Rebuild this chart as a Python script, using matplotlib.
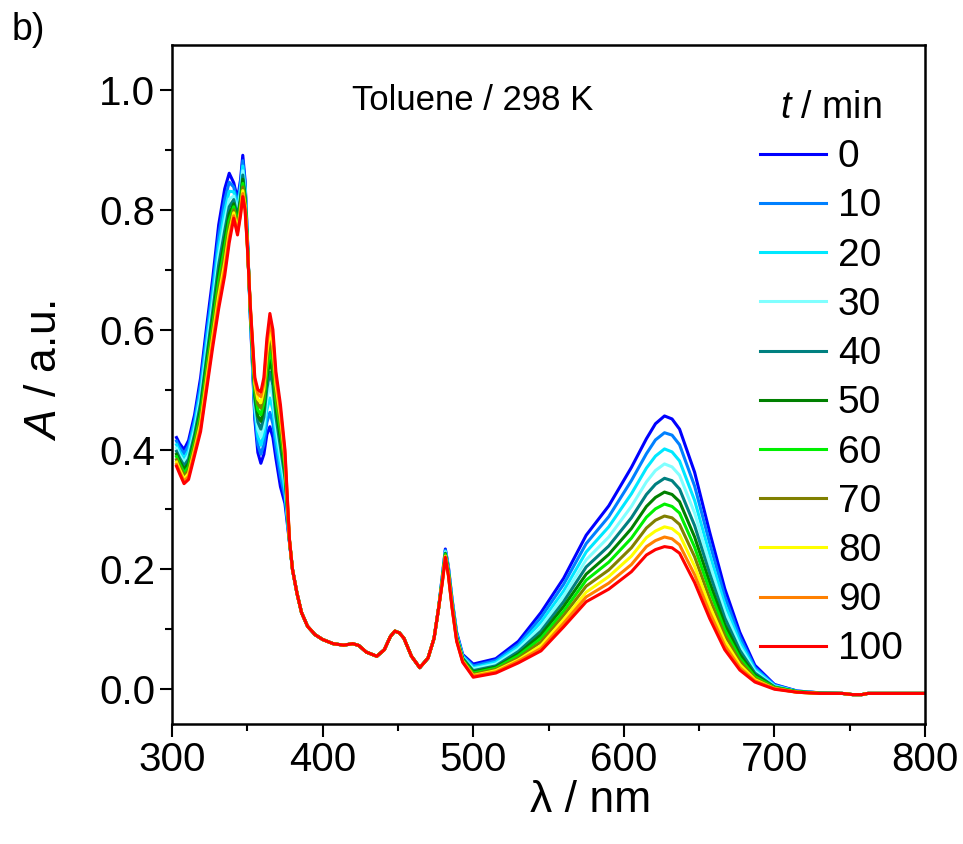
# -*- coding: utf-8 -*-
"""
UV-vis absorption spectra in toluene at 298 K, recorded every 10 min
"""
#%% packages
import matplotlib
matplotlib.use('Agg')
import matplotlib.pyplot as plt
from matplotlib.ticker import MultipleLocator, FormatStrFormatter

#%% data
times = [0, 10, 20, 30, 40, 50, 60, 70, 80, 90, 100]  # min
colors = ['#0000FF', '#0080FF', '#00E8FF', '#80FFFF', '#008080', '#008000',
          '#00F000', '#808000', '#FFFF00', '#FF8000', '#FF0000']

# UV part, every curve differs
wl_uv = [303, 305, 308, 311, 315, 319, 323, 327, 331, 335, 338, 341, 343.5, 345.5,
         347, 348.5, 350, 352, 355, 357, 359, 361, 363, 365, 367, 369, 372, 375, 378]
abs_uv = [
    [0.420, 0.410, 0.400, 0.415, 0.458, 0.520, 0.605, 0.685, 0.775, 0.835, 0.861, 0.845, 0.818, 0.850, 0.891, 0.850, 0.760, 0.620, 0.450, 0.395, 0.377, 0.392, 0.425, 0.438, 0.420, 0.385, 0.338, 0.310, 0.245],  # 0
    [0.414, 0.404, 0.393, 0.407, 0.449, 0.509, 0.592, 0.670, 0.757, 0.817, 0.846, 0.838, 0.810, 0.842, 0.882, 0.844, 0.757, 0.623, 0.459, 0.408, 0.392, 0.408, 0.445, 0.462, 0.443, 0.403, 0.355, 0.321, 0.246],  # 10
    [0.408, 0.397, 0.385, 0.398, 0.441, 0.497, 0.578, 0.656, 0.739, 0.798, 0.831, 0.830, 0.803, 0.835, 0.873, 0.837, 0.755, 0.625, 0.468, 0.422, 0.407, 0.425, 0.466, 0.486, 0.466, 0.422, 0.373, 0.333, 0.246],  # 20
    [0.402, 0.391, 0.379, 0.391, 0.433, 0.487, 0.566, 0.642, 0.723, 0.781, 0.818, 0.823, 0.796, 0.828, 0.865, 0.831, 0.753, 0.627, 0.476, 0.434, 0.421, 0.439, 0.484, 0.508, 0.487, 0.439, 0.389, 0.343, 0.247],  # 30
    [0.397, 0.386, 0.373, 0.384, 0.425, 0.477, 0.554, 0.630, 0.708, 0.765, 0.805, 0.817, 0.789, 0.821, 0.858, 0.826, 0.750, 0.630, 0.484, 0.446, 0.434, 0.454, 0.502, 0.529, 0.507, 0.455, 0.404, 0.353, 0.247],  # 40
    [0.392, 0.381, 0.367, 0.377, 0.418, 0.467, 0.544, 0.618, 0.693, 0.750, 0.793, 0.810, 0.783, 0.815, 0.851, 0.821, 0.748, 0.632, 0.491, 0.456, 0.447, 0.467, 0.519, 0.549, 0.525, 0.470, 0.418, 0.363, 0.248],  # 50
    [0.388, 0.376, 0.361, 0.371, 0.412, 0.459, 0.534, 0.607, 0.680, 0.737, 0.782, 0.805, 0.777, 0.809, 0.844, 0.816, 0.746, 0.634, 0.497, 0.466, 0.458, 0.479, 0.533, 0.566, 0.542, 0.483, 0.431, 0.371, 0.248],  # 60
    [0.383, 0.372, 0.356, 0.365, 0.406, 0.451, 0.524, 0.597, 0.667, 0.723, 0.772, 0.800, 0.772, 0.804, 0.838, 0.812, 0.745, 0.635, 0.504, 0.476, 0.469, 0.490, 0.548, 0.583, 0.558, 0.497, 0.443, 0.379, 0.249],  # 70
    [0.379, 0.367, 0.351, 0.360, 0.400, 0.443, 0.516, 0.587, 0.656, 0.711, 0.762, 0.795, 0.767, 0.799, 0.832, 0.807, 0.743, 0.637, 0.510, 0.484, 0.478, 0.501, 0.561, 0.599, 0.573, 0.509, 0.455, 0.387, 0.249],  # 80
    [0.375, 0.363, 0.347, 0.355, 0.395, 0.436, 0.507, 0.578, 0.645, 0.700, 0.753, 0.790, 0.762, 0.794, 0.827, 0.803, 0.741, 0.639, 0.515, 0.493, 0.488, 0.511, 0.574, 0.614, 0.587, 0.520, 0.465, 0.394, 0.250],  # 90
    [0.372, 0.360, 0.343, 0.350, 0.390, 0.430, 0.500, 0.570, 0.635, 0.690, 0.745, 0.786, 0.758, 0.790, 0.822, 0.800, 0.740, 0.640, 0.520, 0.500, 0.496, 0.520, 0.585, 0.627, 0.600, 0.530, 0.475, 0.400, 0.250],  # 100
]

# 380-477 nm, all curves lie on top of each other
wl_mid = [380, 383, 386, 390, 395, 400, 407, 414, 420, 424, 429, 436, 441, 445, 448,
          451, 454, 459, 464.5, 470, 474, 477]
abs_mid = [0.200, 0.160, 0.128, 0.105, 0.091, 0.083, 0.076, 0.0735, 0.076, 0.073, 0.062,
           0.055, 0.066, 0.088, 0.097, 0.094, 0.085, 0.055, 0.036, 0.052, 0.085, 0.135]

# visible part, every curve differs
wl_vis = [479.5, 481.5, 483.5, 486, 489, 493, 500, 515, 530, 545, 560, 575, 590, 605, 615,
          621, 627, 632, 637, 647, 657, 667, 677, 687, 700, 715, 730]
abs_vis = [
    [0.190, 0.234, 0.205, 0.150, 0.095, 0.058, 0.042, 0.051, 0.080, 0.128, 0.185, 0.257, 0.306, 0.370, 0.418, 0.443, 0.456, 0.451, 0.434, 0.362, 0.262, 0.168, 0.095, 0.040, 0.008, -0.003, -0.006],  # 0
    [0.188, 0.232, 0.203, 0.148, 0.093, 0.056, 0.039, 0.048, 0.075, 0.120, 0.175, 0.243, 0.288, 0.348, 0.393, 0.416, 0.428, 0.424, 0.408, 0.339, 0.244, 0.155, 0.087, 0.036, 0.007, -0.003, -0.006],  # 10
    [0.187, 0.230, 0.201, 0.146, 0.091, 0.055, 0.036, 0.045, 0.071, 0.112, 0.164, 0.229, 0.271, 0.326, 0.369, 0.389, 0.401, 0.396, 0.381, 0.315, 0.225, 0.142, 0.079, 0.033, 0.006, -0.004, -0.006],  # 20
    [0.186, 0.229, 0.199, 0.144, 0.089, 0.053, 0.034, 0.042, 0.067, 0.104, 0.155, 0.216, 0.254, 0.305, 0.346, 0.365, 0.376, 0.371, 0.357, 0.294, 0.209, 0.130, 0.072, 0.030, 0.005, -0.004, -0.006],  # 30
    [0.184, 0.227, 0.198, 0.143, 0.088, 0.052, 0.031, 0.039, 0.063, 0.097, 0.146, 0.204, 0.239, 0.286, 0.325, 0.342, 0.352, 0.348, 0.334, 0.273, 0.193, 0.119, 0.065, 0.027, 0.004, -0.004, -0.006],  # 40
    [0.183, 0.226, 0.196, 0.141, 0.086, 0.050, 0.029, 0.037, 0.059, 0.091, 0.138, 0.192, 0.225, 0.268, 0.305, 0.320, 0.329, 0.325, 0.313, 0.254, 0.178, 0.108, 0.058, 0.024, 0.003, -0.004, -0.007],  # 50
    [0.182, 0.225, 0.195, 0.140, 0.085, 0.049, 0.027, 0.035, 0.056, 0.085, 0.130, 0.182, 0.212, 0.252, 0.287, 0.301, 0.309, 0.305, 0.294, 0.237, 0.165, 0.099, 0.052, 0.021, 0.003, -0.004, -0.007],  # 60
    [0.181, 0.223, 0.193, 0.138, 0.083, 0.048, 0.025, 0.033, 0.052, 0.079, 0.123, 0.172, 0.199, 0.236, 0.269, 0.282, 0.289, 0.286, 0.275, 0.221, 0.151, 0.090, 0.047, 0.018, 0.002, -0.005, -0.007],  # 70
    [0.180, 0.222, 0.192, 0.137, 0.082, 0.047, 0.023, 0.031, 0.049, 0.073, 0.116, 0.162, 0.188, 0.222, 0.253, 0.264, 0.271, 0.268, 0.258, 0.205, 0.139, 0.081, 0.041, 0.016, 0.001, -0.005, -0.007],  # 80
    [0.179, 0.221, 0.191, 0.136, 0.081, 0.046, 0.022, 0.029, 0.047, 0.068, 0.110, 0.154, 0.177, 0.208, 0.238, 0.248, 0.254, 0.251, 0.241, 0.191, 0.128, 0.073, 0.036, 0.014, 0.001, -0.005, -0.007],  # 90
    [0.178, 0.220, 0.190, 0.135, 0.080, 0.045, 0.020, 0.027, 0.044, 0.064, 0.104, 0.146, 0.167, 0.196, 0.224, 0.233, 0.238, 0.236, 0.227, 0.178, 0.118, 0.066, 0.032, 0.012, 0.000, -0.005, -0.007],  # 100
]

# baseline tail, shared
wl_tail = [745, 752, 758, 762, 780, 800]
abs_tail = [-0.007, -0.009, -0.009, -0.007, -0.007, -0.007]

#%% style
plt.rcParams['font.family'] = ['Liberation Sans', 'DejaVu Sans']
plt.rcParams['mathtext.fontset'] = 'custom'
plt.rcParams['mathtext.rm'] = 'Liberation Sans'
plt.rcParams['mathtext.it'] = 'Liberation Sans:italic'

fig = plt.figure(figsize=(9.63, 8.44), dpi=100)
ax = fig.add_axes([0.1786, 0.1422, 0.782, 0.8045])

for i, t in enumerate(times):
    wl = wl_uv + wl_mid + wl_vis + wl_tail
    a = abs_uv[i] + abs_mid + abs_vis[i] + abs_tail
    ax.plot(wl, a, '-', color=colors[i], lw=2.2, label=str(t))

ax.set_xlim([300, 800])
ax.set_ylim([-0.058, 1.075])
ax.xaxis.set_major_locator(MultipleLocator(100))
ax.xaxis.set_minor_locator(MultipleLocator(50))
ax.yaxis.set_major_locator(MultipleLocator(0.2))
ax.yaxis.set_minor_locator(MultipleLocator(0.1))
ax.yaxis.set_major_formatter(FormatStrFormatter('%.1f'))
ax.tick_params(which='major', direction='out', length=9, width=1.5, labelsize=29, pad=3)
ax.tick_params(which='minor', direction='out', length=5, width=1.5)
for s in ax.spines.values():
    s.set_linewidth(1.8)

ax.set_xlabel('λ / nm', fontsize=32, va='center')
ax.xaxis.set_label_coords(0.556, -0.112)
ax.set_ylabel(r'$A$ / a.u.', fontsize=32, va='center')
ax.yaxis.set_label_coords(-0.169, 0.52)

leg = ax.legend(loc='upper left', bbox_to_anchor=(760/963, 1 - 90/844),
                bbox_transform=fig.transFigure, frameon=False, fontsize=28,
                title=r'$t$ / min', title_fontsize=27, handlelength=1.7,
                handletextpad=0.3, labelspacing=0.34, borderpad=0, borderaxespad=0)

fig.text(352/963, 1 - 100/844, 'Toluene / 298 K', fontsize=25, va='center', ha='left')
fig.text(12/963, 1 - 30/844, 'b)', fontsize=27, va='center', ha='left')

fig.savefig('out.png', dpi=100)
